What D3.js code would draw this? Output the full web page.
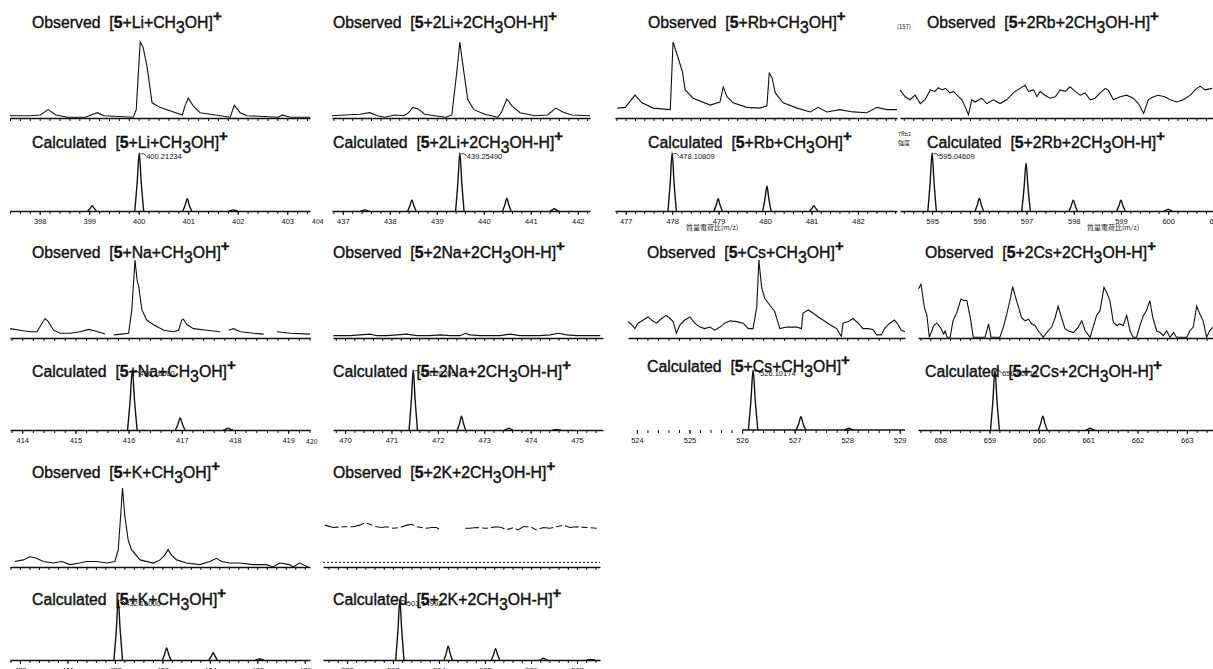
<!DOCTYPE html>
<html lang="en">
<head>
<meta charset="UTF-8">
<title>Observed and calculated spectra</title>
<script src="https://d3js.org/d3.v7.min.js"></script>
<style>
  body { margin: 0; background: #fff; }
  svg { display: block; font-family: "Liberation Sans", Arial, sans-serif; }
</style>
</head>
<body>
<svg id="chart" width="1213" height="669"></svg>
<script>
// observed traces: [m/z, relative intensity], null = gap in the scan
const liObs = [[397.40,3],[397.81,3],[398.01,4],[398.17,11],[398.33,4],[398.56,1],[398.92,1],[399.08,5],[399.16,7],[399.30,3],[399.89,1],[399.95,11],[400.03,100],[400.09,93],[400.17,67],[400.27,20],[400.43,14],[400.88,4],[400.94,17],[401.00,26],[401.10,16],[401.24,7],[401.85,1],[401.93,17],[402.05,7],[402.19,3],[402.82,1],[402.90,4],[403.06,1],[403.46,1]];
const li2Obs = [[436.77,3],[437.04,4],[437.36,5],[437.57,7],[437.74,3],[437.89,1],[438.11,4],[438.30,3],[438.40,7],[438.49,14],[438.60,12],[438.74,5],[438.96,3],[439.19,1],[439.32,4],[439.43,63],[439.49,100],[439.57,63],[439.66,24],[439.79,11],[440.02,5],[440.30,1],[440.38,8],[440.49,25],[440.60,16],[440.77,7],[441.09,3],[441.36,4],[441.53,13],[441.68,8],[441.87,4],[442.26,3]];
const rbObs = [[476.82,13],[476.99,14],[477.20,30],[477.35,20],[477.59,13],[477.96,11],[478.02,100],[478.13,79],[478.22,61],[478.28,37],[478.45,26],[478.82,17],[479.03,21],[479.10,41],[479.18,28],[479.31,20],[479.61,14],[479.89,13],[480.04,16],[480.09,59],[480.15,53],[480.22,33],[480.39,20],[480.69,13],[480.97,8],[481.14,14],[481.33,8],[481.61,11],[481.89,8],[482.19,7],[482.41,14],[482.62,11],[482.84,11]];
const rb2Obs = [[594.32,37],[594.43,28],[594.53,24],[594.64,30],[594.75,19],[594.85,24],[594.96,37],[595.06,35],[595.13,40],[595.21,37],[595.28,39],[595.38,33],[595.45,35],[595.56,28],[595.63,24],[595.70,15],[595.77,4],[595.84,24],[595.91,21],[596.05,26],[596.16,19],[596.30,24],[596.44,19],[596.58,24],[596.72,33],[596.86,39],[596.97,43],[597.04,35],[597.15,37],[597.22,28],[597.29,35],[597.39,30],[597.50,26],[597.61,28],[597.71,37],[597.82,35],[597.92,41],[598.03,35],[598.14,30],[598.24,33],[598.35,24],[598.45,26],[598.56,33],[598.67,39],[598.74,36],[598.84,24],[598.98,28],[599.12,30],[599.26,26],[599.37,19],[599.48,6],[599.58,24],[599.69,28],[599.79,30],[599.93,28],[600.04,24],[600.18,21],[600.32,24],[600.47,30],[600.57,37],[600.68,42],[600.78,37],[600.93,39]];
const naObs = [[413.77,12],[413.96,10],[414.15,8],[414.28,8],[414.37,19],[414.43,25],[414.49,21],[414.59,10],[414.71,6],[414.90,6],[415.09,8],[415.25,11],[415.37,9],[415.47,7],[415.56,5],[415.64,null],[415.72,4],[415.87,5],[416.00,6],[416.06,36],[416.12,100],[416.16,74],[416.19,66],[416.25,36],[416.34,23],[416.47,17],[416.66,10],[416.84,8],[416.94,10],[417.00,23],[417.03,24],[417.10,17],[417.22,12],[417.47,10],[417.72,8],[417.80,null],[417.88,10],[417.97,12],[418.10,8],[418.35,6],[418.54,5],[418.66,null],[418.79,8],[419.04,6],[419.41,5]];
const na2Obs = [[469.75,3],[470.11,3],[470.32,4],[470.54,5],[470.68,3],[470.90,3],[471.11,4],[471.33,5],[471.55,3],[471.83,3],[472.05,4],[472.26,3],[472.48,3],[472.59,6],[472.69,4],[472.91,3],[473.13,3],[473.34,3],[473.56,5],[473.77,3],[473.99,3],[474.20,3],[474.42,4],[474.60,6],[474.78,4],[474.99,3],[475.21,3],[475.50,3]];
const csObs = [[523.83,21],[523.90,17],[523.96,12],[524.02,19],[524.12,23],[524.21,27],[524.28,23],[524.37,19],[524.47,25],[524.56,29],[524.63,25],[524.69,21],[524.75,6],[524.82,17],[524.91,23],[525.01,27],[525.10,19],[525.20,14],[525.29,12],[525.39,14],[525.48,10],[525.58,14],[525.67,19],[525.77,22],[525.90,21],[526.02,19],[526.12,12],[526.21,12],[526.28,40],[526.32,100],[526.37,66],[526.43,51],[526.53,42],[526.62,34],[526.72,12],[526.85,14],[527.04,14],[527.13,12],[527.16,32],[527.26,36],[527.35,32],[527.45,27],[527.54,23],[527.67,17],[527.80,12],[527.89,2],[527.92,19],[528.02,21],[528.11,25],[528.21,19],[528.30,12],[528.40,12],[528.49,11],[528.56,4],[528.65,4],[528.71,12],[528.81,19],[528.90,23],[528.97,17],[529.03,10],[529.10,8]];
const cs2Obs = [[657.56,63],[657.61,69],[657.68,39],[657.73,29],[657.78,1],[657.87,16],[657.93,19],[658.00,14],[658.07,5],[658.10,9],[658.14,1],[658.20,1],[658.26,22],[658.34,33],[658.42,50],[658.47,48],[658.54,48],[658.61,26],[658.67,1],[658.91,1],[658.98,18],[659.03,1],[659.21,1],[659.28,14],[659.35,31],[659.42,50],[659.47,66],[659.52,54],[659.59,39],[659.65,26],[659.72,22],[659.79,24],[659.86,18],[659.92,16],[659.99,9],[660.09,1],[660.16,7],[660.26,14],[660.33,26],[660.39,41],[660.46,26],[660.53,12],[660.60,9],[660.70,7],[660.80,14],[660.87,22],[660.94,9],[661.04,1],[661.10,14],[661.17,29],[661.24,35],[661.32,65],[661.37,59],[661.44,48],[661.51,20],[661.58,16],[661.64,18],[661.71,16],[661.78,29],[661.85,9],[661.91,1],[661.98,1],[662.05,16],[662.12,29],[662.18,35],[662.25,48],[662.31,26],[662.39,9],[662.46,7],[662.52,3],[662.59,9],[662.66,1],[662.73,7],[662.79,1],[663.00,1],[663.06,9],[663.13,14],[663.20,41],[663.26,31],[663.33,22],[663.40,1],[663.46,9],[663.53,14]];
const kObs = [[429.89,7],[430.07,9],[430.21,13],[430.35,11],[430.49,7],[430.70,5],[430.88,7],[431.05,3],[431.26,5],[431.40,7],[431.61,7],[431.83,5],[432.00,7],[432.07,22],[432.12,64],[432.16,100],[432.21,64],[432.28,34],[432.35,22],[432.53,9],[432.81,5],[432.95,9],[433.05,15],[433.12,22],[433.19,15],[433.30,9],[433.51,5],[433.79,3],[434.00,7],[434.14,11],[434.25,7],[434.42,5],[434.63,5],[434.91,3],[435.19,3],[435.33,0],[435.47,5],[435.68,3],[435.75,0],[435.89,5],[436.07,0]];
const k2Obs = [[501.52,53],[501.70,50],[501.92,51],[502.14,51],[502.28,53],[502.39,56],[502.50,54],[502.65,51],[502.75,50],[502.86,51],[503.01,49],[503.15,50],[503.30,53],[503.41,54],[503.52,51],[503.62,50],[503.73,49],[503.84,50],[503.95,50],[504.02,47],[504.30,null],[504.57,49],[504.67,49],[504.82,50],[505.04,49],[505.25,51],[505.36,50],[505.47,47],[505.62,50],[505.72,47],[505.83,51],[505.98,51],[506.12,47],[506.27,50],[506.41,49],[506.56,51],[506.70,53],[506.85,50],[506.99,51],[507.21,50],[507.43,49]];
const k2DottedLevel = 6;

// calculated isotope peaks: [m/z, relative intensity]
const liCalc = [[399.06,9],[400.01,100],[400.98,21],[401.91,2]];
const li2Calc = [[437.47,2],[438.47,19],[439.49,100],[440.49,22],[441.50,4]];
const rbCalc = [[478.00,100],[478.99,21],[480.04,43],[481.05,9]];
const rb2Calc = [[595.00,100],[596.00,22],[596.99,83],[597.99,19],[599.00,19],[600.00,3]];
const naCalc = [[416.07,100],[416.97,20],[417.87,3]];
const na2Calc = [[471.47,100],[472.51,23],[473.53,3],[474.56,1]];
const csCalc = [[526.21,100],[527.12,22],[528.03,3]];
const cs2Calc = [[659.11,100],[660.08,23],[661.04,3]];
const kCalc = [[432.07,100],[433.09,20],[434.07,12],[435.05,2]];
const k2Calc = [[503.15,100],[504.20,23],[505.23,19],[506.27,3],[507.30,1]];

// tick labels on the calculated axes
const liTicks = [398, 399, 400, 401, 402, 403];
const li2Ticks = [437, 438, 439, 440, 441, 442];
const rbTicks = [477, 478, 479, 480, 481, 482];
const rb2Ticks = [595, 596, 597, 598, 599, 600, 601];
const naTicks = [414, 415, 416, 417, 418, 419];
const na2Ticks = [470, 471, 472, 473, 474, 475];
const csTicks = [524, 525, 526, 527, 528, 529];
const cs2Ticks = [658, 659, 660, 661, 662, 663];
const kTicks = [430, 431, 432, 433, 434, 435, 436];
const k2Ticks = [502, 503, 504, 505, 506, 507];

// m/z shown at each axis end
const liRange = [397.40, 403.46], li2Range = [436.77, 442.26];
const rbRange = [476.77, 482.84], rb2Range = [594.32, 600.95];
const naRange = [413.77, 419.41], na2Range = [469.74, 475.56];
const csRange = [523.83, 529.10], cs2Range = [657.55, 663.53];
const kRange = [429.79, 436.11], k2Range = [501.48, 507.50];

const metals = ["Li", "Na", "K", "Rb", "Cs"];
const peakNotes = ["400.21234", "439.25490", "478.10809", "595.04609", "416.18600", "471.20205", "526.10174", "659.00719", "432.16000", "503.14992"];

// layout
const rows = [
  { obsTitle: 28, obsAxis: 118, obsTop: 42, calcTitle: 148, calcAxis: 211, calcTop: 153, label: 223 },
  { obsTitle: 258, obsAxis: 338, obsTop: 260, calcTitle: 377, calcAxis: 430, calcTop: 370, label: 443 },
  { obsTitle: 478, obsAxis: 567, obsTop: 488, calcTitle: 605, calcAxis: 660, calcTop: 600, label: 671 }
];

const panels = [
  { metal: 0, two: false, obs: liObs, calc: liCalc, ticks: liTicks, dom: liRange, row: 0, x: [10, 310], tx: 32, note: 0 },
  { metal: 0, two: true, obs: li2Obs, calc: li2Calc, ticks: li2Ticks, dom: li2Range, row: 0, x: [332, 590], tx: 333, note: 1 },
  { metal: 3, two: false, obs: rbObs, calc: rbCalc, ticks: rbTicks, dom: rbRange, row: 0, x: [615, 897], tx: 648, note: 2 },
  { metal: 3, two: true, obs: rb2Obs, calc: rb2Calc, ticks: rb2Ticks, dom: rb2Range, row: 0, x: [900, 1213], tx: 927, note: 3 },
  { metal: 1, two: false, obs: naObs, calc: naCalc, ticks: naTicks, dom: naRange, row: 1, x: [10, 310], tx: 32, note: 4 },
  { metal: 1, two: true, obs: na2Obs, calc: na2Calc, ticks: na2Ticks, dom: na2Range, row: 1, x: [333, 603], tx: 333, note: 5 },
  { metal: 4, two: false, obs: csObs, calc: csCalc, ticks: csTicks, dom: csRange, row: 1, x: [628, 905], tx: 647, note: 6, calcTitle: 372, lineFrom: 526.0 },
  { metal: 4, two: true, obs: cs2Obs, calc: cs2Calc, ticks: cs2Ticks, dom: cs2Range, row: 1, x: [918, 1213], tx: 925, note: 7 },
  { metal: 2, two: false, obs: kObs, calc: kCalc, ticks: kTicks, dom: kRange, row: 2, x: [10, 310], tx: 32, note: 8 },
  { metal: 2, two: true, obs: k2Obs, calc: k2Calc, ticks: k2Ticks, dom: k2Range, row: 2, x: [323, 600], tx: 333, note: 9, dashed: true, dotted: k2DottedLevel }
];

const INK = "#111";
const PEAK_HALF = 0.09; // half width of a calculated peak, in m/z

const svg = d3.select("#chart");

function title(g, x, y, word, metal, two) {
  const t = g.append("text").attr("x", x).attr("y", y)
    .attr("font-size", 15.8).attr("fill", INK)
    .attr("stroke", INK).attr("stroke-width", 0.4);
  t.append("tspan").text(word + "\u00a0\u00a0[");
  t.append("tspan").attr("font-weight", "bold").text("5");
  t.append("tspan").text(two ? "+2" + metal + "+2CH" : "+" + metal + "+CH");
  t.append("tspan").attr("dy", 5).text("3");
  t.append("tspan").attr("dy", -5).text(two ? "OH-H]" : "OH]");
  t.append("tspan").attr("dy", -7).attr("font-weight", "bold").attr("font-size", 15).text("+");
}

function axis(g, x, y, labels, lineFrom) {
  const [d0, d1] = x.domain();
  const minor = d3.range(Math.ceil(d0 * 5), Math.floor(d1 * 5) + 1).map(v => v / 5);
  const a = g.append("g").attr("transform", `translate(0,${y})`)
    .call(d3.axisBottom(x).tickValues(minor).tickSize(3).tickSizeOuter(0).tickFormat(""));
  a.select(".domain").attr("stroke", INK).attr("stroke-width", 1.4);
  a.selectAll(".tick line").attr("stroke", INK).attr("stroke-width", 1);
  if (lineFrom !== undefined) {
    a.select(".domain").attr("d", `M${x(lineFrom)},0H${x.range()[1]}`);
  }
  if (labels) {
    const b = g.append("g").attr("transform", `translate(0,${y})`)
      .call(d3.axisBottom(x).tickValues(labels).tickSize(4).tickSizeOuter(0).tickFormat(d3.format("d")));
    b.select(".domain").remove();
    b.selectAll(".tick line").attr("stroke", INK);
    b.selectAll(".tick text").attr("font-size", 7.5).attr("fill", INK)
      .attr("font-family", "'Liberation Sans Narrow', 'Liberation Sans', Arial, sans-serif")
      .attr("y", 8);
  }
}

panels.forEach(p => {
  const r = rows[p.row];
  const metal = metals[p.metal];
  const g = svg.append("g");
  const x = d3.scaleLinear().domain(p.dom).range(p.x);
  const yObs = d3.scaleLinear().domain([0, 100]).range([r.obsAxis, r.obsTop]);
  const yCalc = d3.scaleLinear().domain([0, 100]).range([r.calcAxis, r.calcTop]);

  // observed
  title(g, p.tx, r.obsTitle, "Observed", metal, p.two);
  axis(g, x, r.obsAxis, null);
  if (p.dotted !== undefined) {
    g.append("line").attr("x1", p.x[0]).attr("x2", p.x[1])
      .attr("y1", yObs(p.dotted)).attr("y2", yObs(p.dotted))
      .attr("stroke", INK).attr("stroke-width", 1).attr("stroke-dasharray", "2,2");
  }
  g.append("path").datum(p.obs)
    .attr("d", d3.line().defined(d => d[1] !== null).x(d => x(d[0])).y(d => yObs(d[1])))
    .attr("fill", "none").attr("stroke", INK).attr("stroke-width", 1.1)
    .attr("stroke-dasharray", p.dashed ? "14,3,6,3" : null);

  // calculated
  title(g, p.tx, p.calcTitle || r.calcTitle, "Calculated", metal, p.two);
  axis(g, x, r.calcAxis, p.ticks, p.lineFrom);
  const peakLine = d3.line().x(d => x(d[0])).y(d => yCalc(d[1])).curve(d3.curveMonotoneX);
  g.selectAll(null).data(p.calc).join("path")
    .attr("d", d => peakLine([
      [d[0] - PEAK_HALF, 0], [d[0] - PEAK_HALF * 0.45, d[1] * 0.5], [d[0], d[1]],
      [d[0] + PEAK_HALF * 0.45, d[1] * 0.5], [d[0] + PEAK_HALF, 0]
    ]))
    .attr("fill", "none").attr("stroke", INK).attr("stroke-width", 1.4);

  const top = p.calc.reduce((m, d) => d[1] > m[1] ? d : m);
  const px = x(top[0]), py = yCalc(top[1]);
  g.append("path").attr("d", `M${px + 1},${py + 1}q3,-2 6,2`)
    .attr("fill", "none").attr("stroke", INK).attr("stroke-width", 0.8);
  g.append("text").attr("x", px + 7).attr("y", py + 6)
    .attr("font-size", 7.5).attr("fill", INK).text(peakNotes[p.note]);
});

// small leftover captions of the original scans
const extras = [
  { t: "(157)", x: 897, y: 29, s: 6 },
  { t: "7Rb2", x: 898, y: 136, s: 5.5 },
  { t: "強度", x: 898, y: 145, s: 6 },
  { t: "質量電荷比(m/z)", x: 686, y: 230, s: 7 },
  { t: "質量電荷比(m/z)", x: 1087, y: 230, s: 7 },
  { t: "404", x: 312, y: 224, s: 7 },
  { t: "420", x: 306, y: 444, s: 7 }
];
svg.selectAll(null).data(extras).join("text")
  .attr("x", d => d.x).attr("y", d => d.y).attr("font-size", d => d.s)
  .attr("font-family", "'Noto Sans CJK JP', 'Liberation Sans', sans-serif")
  .attr("fill", "#222").text(d => d.t);
</script>
</body>
</html>
